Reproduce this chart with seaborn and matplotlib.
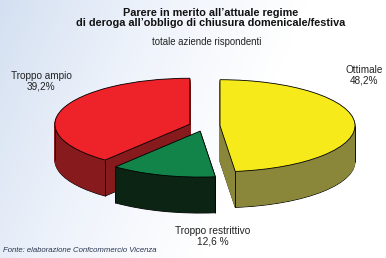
import numpy as np
import matplotlib
matplotlib.use("Agg")
import matplotlib.pyplot as plt
import seaborn as sns
from matplotlib.colors import LinearSegmentedColormap

sns.set_theme(style="white")
plt.rcParams['font.family'] = ['Liberation Sans', 'DejaVu Sans']

# ---- data ----
categories = ["Ottimale", "Troppo restrittivo", "Troppo ampio"]
values = [48.2, 12.6, 39.2]
value_labels = ["48,2%", "12,6 %", "39,2%"]
top_colors = ["#f7ea1b", "#12844a", "#ee2229"]
side_colors = ["#8a863a", "#0c2414", "#861a1c"]
draw_rank = [1, 2, 0]          # back-to-front order of slices
explode = [0.115, 0.115, 0.115]

title = "Parere in merito all\u2019attuale regime\ndi deroga all\u2019obbligo di chiusura domenicale/festiva"
subtitle = "totale aziende rispondenti"
source = "Fonte: elaborazione Confcommercio Vicenza"

W, H = 386, 258
fig = plt.figure(figsize=(W / 100, H / 100), dpi=100)

# background gradient
bg = fig.add_axes([0, 0, 1, 1], zorder=-10)
xx, yy = np.meshgrid(np.linspace(0, 1, 200), np.linspace(0, 1, 200))
grad = np.clip(1.25 * xx + 0.35 * (yy), 0, 1)
cmap = LinearSegmentedColormap.from_list("bg", ["#d4e0f1", "#eef3fb", "#ffffff"])
bg.imshow(grad, cmap=cmap, aspect="auto", extent=[0, 1, 0, 1], origin="upper")
bg.set_axis_off()

ax = fig.add_axes([0, 0, 1, 1])
ax.patch.set_alpha(0)

# pixel geometry of the projected pie
cx_px, cy_px = 204.5, 126.0      # centre (from top)
ax_px, by_px = 135.0, 46.0       # semi axes
depth_px = 36.0
nlayers = 40
depth = depth_px / by_px

for k in range(nlayers + 1):
    dy = -depth * (1 - k / nlayers)
    is_top = (k == nlayers)
    wedges, _ = ax.pie(values, explode=explode, startangle=90, counterclock=False,
                       colors=top_colors if is_top else side_colors,
                       center=(0, dy), radius=1.0)
    for i, w in enumerate(wedges):
        w.set_zorder(draw_rank[i] * 1000 + k + (5 if is_top else 0))
        if is_top or k == 0:
            w.set_edgecolor("black")
            w.set_linewidth(0.6)
        else:
            w.set_edgecolor(side_colors[i])
            w.set_linewidth(0.8)

# vertical edges at front corners / silhouettes (computed from data)
cum = np.concatenate([[0], np.cumsum(values)]) / sum(values) * 360.0
for i in range(len(values)):
    a0, a1 = cum[i], cum[i + 1]
    mid = np.deg2rad(90 - (a0 + a1) / 2)
    ox, oy = explode[i] * np.cos(mid), explode[i] * np.sin(mid)
    pts = []
    for a in (a0, a1, 90, 270):
        if a0 <= a <= a1:
            t = np.deg2rad(90 - a)
            px, py = ox + np.cos(t), oy + np.sin(t)
            if py <= oy + 0.05 or a in (90, 270):
                pts.append((px, py))
    for px, py in pts:
        ax.plot([px, px], [py, py - depth], color="black", lw=0.6,
                zorder=draw_rank[i] * 1000 + nlayers + 1, solid_capstyle="butt")

ax.set_aspect("auto")
ax.set_xlim(-cx_px / ax_px, (W - cx_px) / ax_px)
ax.set_ylim(-(H - cy_px) / by_px, cy_px / by_px)
ax.set_axis_off()

# texts (figure pixel coords from top)
def ftext(x, y, s, **kw):
    fig.text(x / W, 1 - y / H, s, **kw)

ftext(211, 18, title, ha="center", va="center", fontsize=7.8, fontweight="bold",
      color="#111111", linespacing=1.1)
ftext(207, 42, subtitle, ha="center", va="center", fontsize=6.9, color="#222222")
ftext(41, 81, categories[2] + "\n" + value_labels[2], ha="center", va="center",
      fontsize=7.2, color="#222222", linespacing=1.1)
ftext(364, 75, categories[0] + "\n" + value_labels[0], ha="center", va="center",
      fontsize=7.2, color="#222222", linespacing=1.1)
ftext(213, 236, categories[1] + "\n" + value_labels[1], ha="center", va="center",
      fontsize=7.3, color="#222222", linespacing=1.1)
ftext(3, 250, source, ha="left", va="center", fontsize=5.6, style="italic",
      color="#2a3550")

fig.savefig("out.png", dpi=100)
